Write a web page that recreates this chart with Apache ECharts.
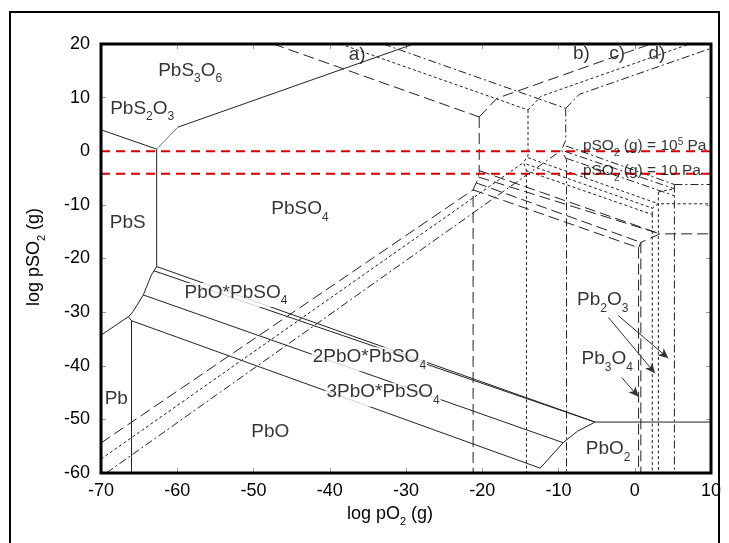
<!DOCTYPE html>
<html><head><meta charset="utf-8">
<script src="https://cdn.jsdelivr.net/npm/echarts@6/dist/echarts.min.js"></script>
<style>html,body{margin:0;padding:0;background:#fff}#c{width:729px;height:543px}</style>
</head><body><div id="c"></div>
<script>
// axis ticks
const xTicks = [-70,-60,-50,-40,-30,-20,-10,0,10];
const yTicks = [-60,-50,-40,-30,-20,-10,0,10,20];
// red reference lines (log pSO2)
const refLines = [0, -4.2];

// diagram a) solid
const aPbS_PbS2O3 = [[-70,4.0],[-62.7,0.4]];
const aPbS2O3_PbS3O6 = [[-62.7,0.4],[-59.9,4.5]];
const aPbSO4_PbS3O6 = [[-59.9,4.5],[-29,20]];
const aPbS_PbSO4 = [[-62.7,0.4],[-62.7,-21.5],[-63.4,-23.1],[-64.45,-26.8],[-65.8,-29.9],[-66.4,-30.85]];
const aPb_PbS = [[-66.4,-30.85],[-70,-34.3]];
const aPb_PbO = [[-66.4,-30.85],[-66.0,-31.6],[-66.0,-60]];
const aL1 = [[-62.7,-21.5],[-5.2,-50.5]];
const aL2 = [[-63.05,-22.3],[-5.2,-50.5]];
const aL3 = [[-64.45,-26.8],[-9.4,-54.35]];
const aL4 = [[-66.0,-31.6],[-12.4,-59.1]];
const aPbO2 = [[-12.4,-59.1],[-11.2,-57.2],[-9.4,-54.35],[-7.5,-52.2],[-5.2,-50.5],[10,-50.5]];

// diagram b) long dash
const b1 = [[-47.4,20],[-20.4,6.4]];
const b2 = [[-20.4,6.4],[-18.1,9.85],[2.1,20]];
const b3 = [[-20.4,6.4],[-20.4,-4.0],[-20.7,-5.6],[-21.2,-7.2],[-21.2,-60]];
const b4 = [[-70,-54.4],[-21.2,-7.2]];
const b5 = [[-20.4,-3.6],[3.3,-15.4]];
const b6 = [[-20.5,-4.8],[3.3,-15.4]];
const b7 = [[-20.8,-5.9],[0.8,-17.0]];
const b8 = [[-21.2,-7.2],[0.5,-18.0]];
const b9 = [[0.5,-18.0],[0.8,-17.0],[3.3,-15.4],[10,-15.4]];
const b10 = [[0.5,-18.0],[0.5,-60]];
const b11 = [[0.8,-17.0],[0.8,-60]];

// diagram c) short dash
const c1 = [[-38.6,20],[-14,7.7]];
const c2 = [[-14,7.7],[-12.3,10.25],[7.2,20]];
const c3 = [[-14,7.7],[-14,-0.8],[-14.6,-2.1],[-14.2,-3.5],[-14.2,-60]];
const c4 = [[-70,-57.4],[-14.6,-2.1]];
const c5 = [[-14,-1.2],[3.1,-9.8]];
const c6 = [[-14.2,-2.4],[2.3,-10.6]];
const c7 = [[-14.3,-3.6],[2.3,-11.8]];
const c8 = [[2.3,-11.8],[2.3,-10.6],[3.1,-9.8],[10,-9.8]];
const c9 = [[2.3,-11.8],[2.3,-60]];
const c10 = [[3.1,-7.6],[3.1,-60]];
const c11 = [[3.1,-7.6],[5.2,-7.0]];

// diagram d) dash-dot
const d1 = [[-33.0,20],[-9.05,8.0]];
const d2 = [[-9.05,8.0],[-7.3,10.6],[10,19.2]];
const d3 = [[-9.05,8.0],[-9.05,2.1],[-9.6,0.2],[-8.95,-1.6],[-8.95,-60]];
const d4 = [[-69.3,-60],[-9.6,0.2]];
const d5 = [[-9.05,1.0],[5.2,-6.2]];
const d6 = [[-9.2,0.0],[5.2,-7.0]];
const d7 = [[-9.0,-1.3],[5.2,-8.3]];
const d8 = [[5.2,-6.2],[10,-6.2]];
const d9 = [[5.2,-6.2],[5.2,-60]];

const labels = [
 {t:'{n|PbS}{s|3}{n|O}{s|6}', x:-58.3, y:14.6},
 {t:'{n|PbS}{s|2}{n|O}{s|3}', x:-64.6, y:7.5},
 {t:'{n|PbS}', x:-66.5, y:-13.8},
 {t:'{n|PbSO}{s|4}', x:-43.9, y:-11.2},
 {t:'{n|PbO*PbSO}{s|4}', x:-52.3, y:-26.8},
 {t:'{n|2PbO*PbSO}{s|4}', x:-34.8, y:-38.8},
 {t:'{n|3PbO*PbSO}{s|4}', x:-33.0, y:-45.4},
 {t:'{n|Pb}', x:-68, y:-46.6},
 {t:'{n|PbO}', x:-47.8, y:-52.8},
 {t:'{n|PbO}{s|2}', x:-3.5, y:-56.0},
 {t:'{n|Pb}{s|2}{n|O}{s|3}', x:-4.2, y:-28.2},
 {t:'{n|Pb}{s|3}{n|O}{s|4}', x:-3.6, y:-39.2}
];
const arrows = [
 [[-3.45,-31.0],[2.66,-41.4]],
 [[-2.2,-30.6],[4.4,-38.6]],
 [[-1.7,-42.2],[0.5,-45.8]]
];
const letters = [{t:'a)',x:-36.4,y:18.0},{t:'b)',x:-7.0,y:18.1},{t:'c)',x:-2.3,y:18.1},{t:'d)',x:2.9,y:18.1}];
const pso2Texts = [
 {t:'{n|pSO}{s|2}{n| (g) = 10}{u|5}{n| Pa}', x:-6.8, y:0.7},
 {t:'{n|pSO}{s|2}{n| (g) = 10 Pa}', x:-6.8, y:-4.0}
];

const FF = 'Liberation Sans';
const rich = {
  n:{fontSize:19, fontFamily:FF, color:'#000', verticalAlign:'top', lineHeight:24},
  s:{fontSize:12, fontFamily:FF, color:'#000', verticalAlign:'top', padding:[12,0,0,0], lineHeight:24}
};

const solid = {type:'solid', color:'#222', width:1};
const longDash = {type:[11,5], color:'#222', width:1};
const shortDash = {type:[3,2.5], color:'#222', width:1};
const dashDot = {type:[8,3,2,3], color:'#222', width:1};

function ln(data, style, z){
  return {type:'line', data:data, showSymbol:false, symbol:'none', lineStyle:style, silent:true, z:z||2, animation:false};
}

const series = [];
[aPbS_PbS2O3,aPbSO4_PbS3O6,aPbS_PbSO4,aPb_PbS,aPb_PbO,aL1,aL2,aL3,aL4,aPbO2].forEach(d=>series.push(ln(d,solid)));
series.push(ln(aPbS2O3_PbS3O6,{type:'solid',color:'#777',width:1}));
[b1,b2,b3,b4,b5,b6,b7,b8,b9,b10,b11].forEach(d=>series.push(ln(d,longDash)));
[c1,c2,c3,c4,c5,c6,c7,c8,c9,c10,c11].forEach(d=>series.push(ln(d,shortDash)));
[d1,d2,d3,d4,d5,d6,d7,d8,d9].forEach(d=>series.push(ln(d,dashDot)));
refLines.forEach(v=>series.push({type:'line', data:[[-70,v],[10,v]], showSymbol:false, symbol:'none', lineStyle:{type:[9,6], color:'#d40000', width:2}, z:5, silent:true, animation:false}));
series.push({type:'scatter', data:labels.map(l=>({value:[l.x,l.y], label:{formatter:l.t}})), symbolSize:0, z:10, silent:true, animation:false,
  label:{show:true, position:'inside', rich:rich, backgroundColor:'#fff', padding:[0,1,0,1]}});
series.push({type:'scatter', data:letters.map(l=>({value:[l.x,l.y], label:{formatter:l.t}})), symbolSize:0, z:10, silent:true, animation:false,
  label:{show:true, position:'inside', fontSize:19, fontFamily:FF, color:'#000'}});
series.push({type:'scatter', data:pso2Texts.map(l=>({value:[l.x,l.y], label:{formatter:l.t}})),
  symbolSize:0, z:10, silent:true, animation:false,
  label:{show:true, position:'right', distance:0, rich:{
    n:{fontSize:15.5, fontFamily:FF, color:'#000', verticalAlign:'top', lineHeight:20},
    s:{fontSize:10, fontFamily:FF, color:'#000', verticalAlign:'top', padding:[11,0,0,0], lineHeight:20},
    u:{fontSize:10, fontFamily:FF, color:'#000', verticalAlign:'top', lineHeight:20}}}});
series.push({type:'line', data:[], markLine:{silent:true, symbol:['none','arrow'], symbolSize:[7,10], label:{show:false}, animation:false,
  lineStyle:{color:'#333', type:'solid', width:1}, data:arrows.map(a=>[{coord:a[0]},{coord:a[1]}])}});

const chart = echarts.init(document.getElementById('c'), null, {renderer:'canvas'});
const axisCommon = {type:'value', splitLine:{show:false}, axisLine:{show:false, onZero:false},
  axisTick:{show:true, inside:true, length:5, lineStyle:{color:'#999'}}};
chart.setOption({
  animation:false,
  backgroundColor:'#fff',
  grid:{left:101, right:18, top:44, bottom:70, show:true, borderColor:'#000', borderWidth:3, z:20},
  xAxis:[
    Object.assign({}, axisCommon, {min:-70, max:10, interval:10, position:'bottom',
      axisLabel:{color:'#000', fontSize:18, fontFamily:FF, margin:9}}),
    Object.assign({}, axisCommon, {min:-70, max:10, interval:10, position:'top', axisLabel:{show:false}})
  ],
  yAxis:[
    Object.assign({}, axisCommon, {min:-60, max:20, interval:10, position:'left',
      axisLabel:{color:'#000', fontSize:18, fontFamily:FF, margin:11}}),
    Object.assign({}, axisCommon, {min:-60, max:20, interval:10, position:'right', axisLabel:{show:false}})
  ],
  series: series,
  graphic:[
    {type:'rect', shape:{x:10, y:12, width:709, height:545}, style:{fill:'none', stroke:'#000', lineWidth:2}, z:0, silent:true},
    {type:'text', x:390, y:516, style:{text:'{n|log pO}{s|2}{n| (g)}', align:'center', verticalAlign:'middle',
      rich:{n:{fontSize:18,fontFamily:FF,color:'#000',verticalAlign:'top',lineHeight:22}, s:{fontSize:11,fontFamily:FF,color:'#000',verticalAlign:'top',padding:[11,0,0,0],lineHeight:22}}}},
    {type:'text', x:36, y:257, rotation:Math.PI/2, style:{text:'{n|log pSO}{s|2}{n| (g)}', align:'center', verticalAlign:'middle',
      rich:{n:{fontSize:18,fontFamily:FF,color:'#000',verticalAlign:'top',lineHeight:22}, s:{fontSize:11,fontFamily:FF,color:'#000',verticalAlign:'top',padding:[11,0,0,0],lineHeight:22}}}}
  ]
});
</script></body></html>
